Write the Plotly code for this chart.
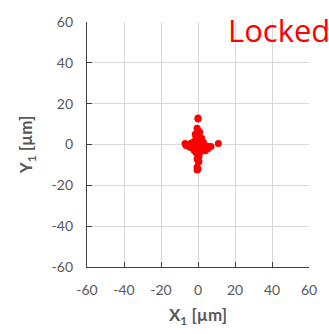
import plotly.graph_objects as go

# Beam position samples (µm) while the loop is locked
x_um = [0, 0, -0.5, 0, 0.5, -0.5, 0, 0.5, -1, 1, 0, -1.5, 1.5, 2, -2, -3, -4, -5, -6, -7,
        -6.5, -5, -3, -2, -1, 1, 2, 3, 4, 5, 6, 7, 5.5, 4, 11, 3, 2, 1, 0, -1,
        0.5, -0.5, 0, 0.5, -0.5, 0, -0.5, 0, 1, -1, 0, 1, -2, 2, -3, 3, 0, -1.5, 1, -4]
y_um = [13, 12.5, 8, 7, 6, 5, 4.5, 4, 3.5, 3, 3, 2, 2, 1.5, 1, 1, 0.5, 0, 0, 0.5,
        -0.5, -1, -1.5, -2, -1, -1, -0.5, 0, -0.5, -1, -1, -1, -2, -3, 0.5, 1, -3, -4, -5, -4,
        -6, -7, -8, -8.5, -11, -12, -12.5, -2, 1, 0, 0, -2, -3, 3, -0.5, -2, -3, 5, 6, -1.5]

tick_vals = [-60, -40, -20, 0, 20, 40, 60]
tick_text = ["-60", "-40", "-20", "0", "20", "40", "60"]

W, H = 329, 334
ml, mr, mt, mb = 87, 15, 22, 65
pw, ph = W - ml - mr, H - mt - mb

font_family = "Lato, 'Open Sans', sans-serif"
axis_col = "#404040"
text_col = "#595959"

fig = go.Figure(go.Scatter(
    x=x_um, y=y_um, mode="markers",
    marker=dict(color="#ff0000", size=7, line=dict(width=0)),
    showlegend=False,
))

axis_common = dict(
    range=[-60, 60], tickmode="array", tickvals=tick_vals, ticktext=tick_text,
    showgrid=True, gridcolor="#d9d9d9", gridwidth=1,
    showline=True, linecolor=axis_col, linewidth=1.3,
    ticks="inside", ticklen=5, tickcolor=axis_col, tickwidth=1,
    zeroline=False, tickfont=dict(family=font_family, size=14, color=text_col),
)

fig.update_xaxes(**axis_common, ticklabelstandoff=10,
                 title=dict(text="X<sub>1</sub> [µm]", standoff=12,
                            font=dict(family=font_family, size=17, color=text_col, weight="bold")))
fig.update_yaxes(**axis_common, ticklabelstandoff=10,
                 title=dict(text="Y<sub>1</sub> [µm]", standoff=14,
                            font=dict(family=font_family, size=17, color=text_col, weight="bold")))

fig.add_annotation(
    text="Locked", xref="paper", yref="paper",
    x=(229 - ml) / pw, y=1 + (mt - 30) / ph,
    xanchor="left", yanchor="middle", showarrow=False,
    font=dict(family="'Open Sans', sans-serif", size=31, color="#ff0000"),
)

fig.update_layout(
    width=W, height=H, margin=dict(l=ml, r=mr, t=mt, b=mb),
    paper_bgcolor="white", plot_bgcolor="white",
)

fig.write_html("out.html")
